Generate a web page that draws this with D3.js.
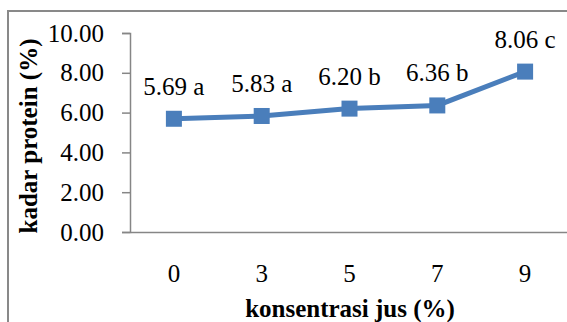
<!DOCTYPE html>
<html><head><meta charset="utf-8">
<script src="https://cdn.jsdelivr.net/npm/d3@7"></script>
<style>body{margin:0;background:#fff}svg{display:block}svg text{font-family:"Liberation Serif","Times New Roman",serif;fill:#000}</style>
</head><body><svg id="c" width="567" height="322"></svg>
<script>
const categories = ["0","3","5","7","9"];
const values = [5.69, 5.83, 6.20, 6.36, 8.06];
const letters = ["a","a","b","b","c"];
const yTicks = [0,2,4,6,8,10];
const xTitle = "konsentrasi jus (%)";
const yTitle = "kadar protein (%)";

const svg = d3.select("#c");
const L = 130, R = 569, T = 33, B = 232;
svg.append("rect").attr("x",8).attr("y",11).attr("width",600).attr("height",400)
  .attr("fill","#fff").attr("stroke","#898989").attr("stroke-width",2);

const x = d3.scaleBand().domain(categories).range([L,R]);
const y = d3.scaleLinear().domain([0,10]).range([B,T]);

const ya = svg.append("g").attr("transform",`translate(${L},0)`)
  .call(d3.axisLeft(y).tickValues(yTicks).tickSize(8).tickPadding(18).tickFormat(d3.format(".2f")));
ya.attr("font-family",null).attr("font-size",null);
ya.select(".domain").attr("stroke","#868686").attr("stroke-width",1.5);
ya.selectAll(".tick line").attr("stroke","#868686").attr("stroke-width",1.5);
ya.selectAll("text").style("font-size","25px");

const xa = svg.append("g").attr("transform",`translate(0,${B})`)
  .call(d3.axisBottom(x).tickSize(0).tickPadding(32));
xa.attr("font-family",null).attr("font-size",null);
xa.select(".domain").attr("stroke","#868686").attr("stroke-width",1.5);
xa.selectAll("text").style("font-size","25px");

const cx = d => x(d) + x.bandwidth()/2;
const color = "#4a7ebb";
svg.append("path").datum(values)
  .attr("d", d3.line().x((d,i)=>cx(categories[i])).y(d=>y(d)))
  .attr("fill","none").attr("stroke",color).attr("stroke-width",5);
svg.selectAll("rect.m").data(values).join("rect").attr("class","m")
  .attr("x",(d,i)=>cx(categories[i])-8).attr("y",d=>y(d)-8)
  .attr("width",16).attr("height",16).attr("fill",color);
svg.selectAll("text.lbl").data(values).join("text").attr("class","lbl")
  .attr("x",(d,i)=>cx(categories[i])).attr("y",d=>y(d)-24)
  .attr("text-anchor","middle").style("font-size","25px")
  .text((d,i)=>d.toFixed(2)+" "+letters[i]);

svg.append("text").attr("x",350).attr("y",317).attr("text-anchor","middle")
  .style("font-size","25px").style("font-weight","bold").text(xTitle);
svg.append("text").attr("transform",`translate(37,136) rotate(-90)`).attr("text-anchor","middle")
  .style("font-size","25px").style("font-weight","bold").text(yTitle);
</script></body></html>
